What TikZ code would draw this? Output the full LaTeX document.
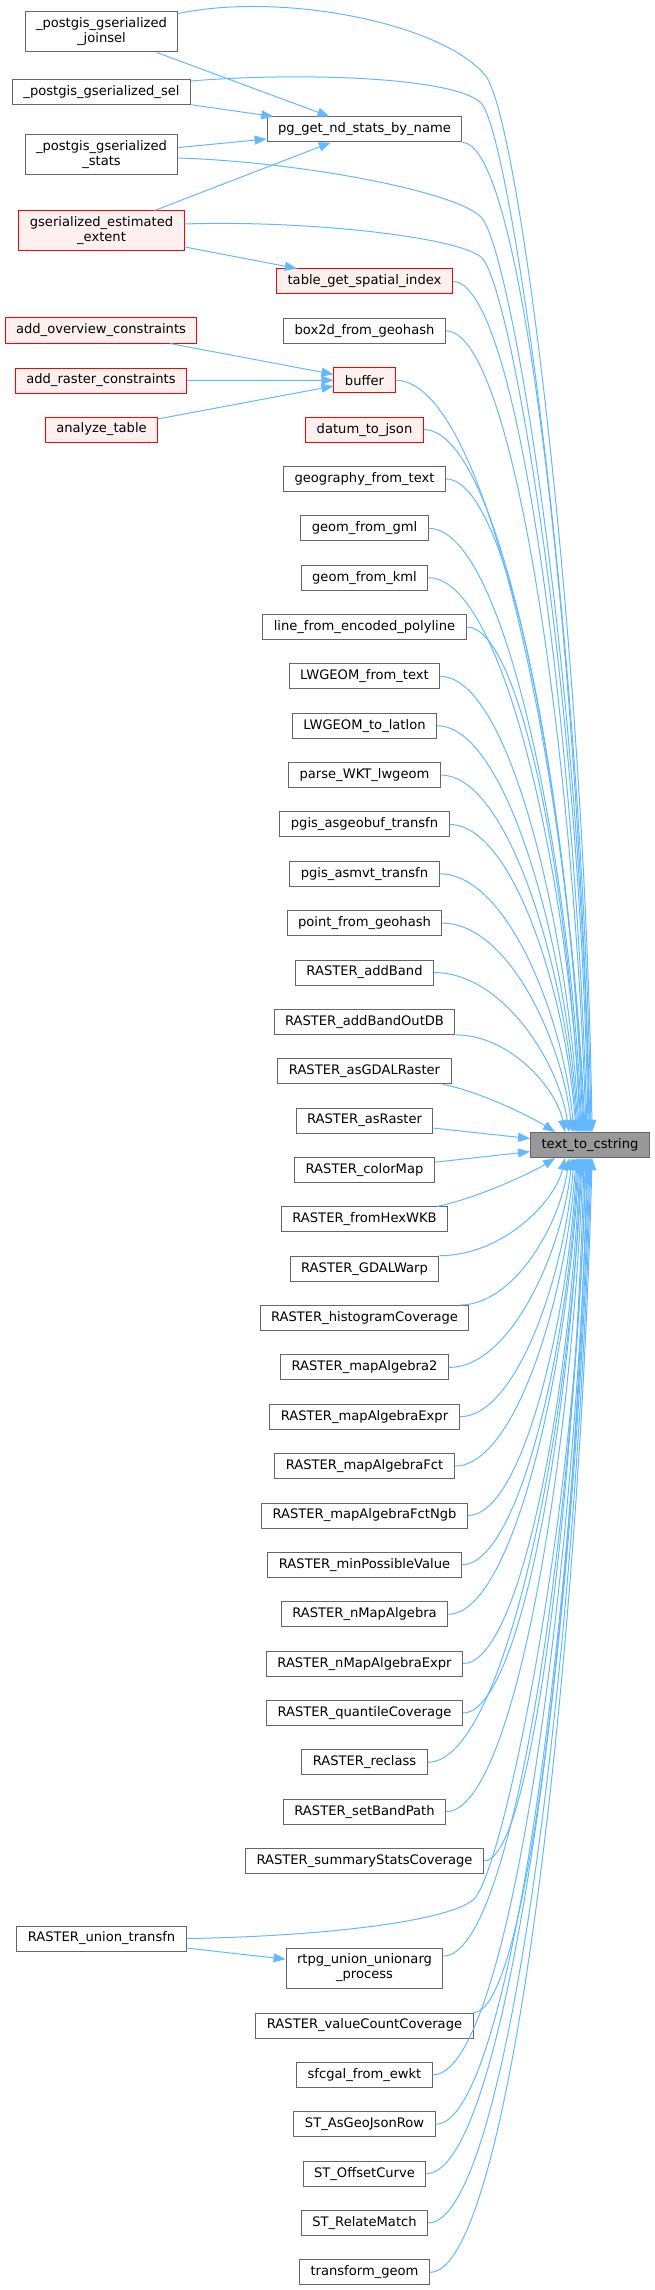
\documentclass[tikz,border=0pt]{standalone}
\usepackage{fontspec}
\setmainfont{DejaVu Sans}
\usetikzlibrary{arrows.meta,calc,positioning}
\definecolor{linkblue}{HTML}{63B8FF}
\definecolor{boxgray}{HTML}{666666}
\definecolor{hotred}{HTML}{FF0000}
\definecolor{hotfill}{HTML}{FFF0F0}
\definecolor{focusgray}{HTML}{999999}

\tikzset{callcurve/.style={to path={let \p1=(\tikztostart), \p2=(\tikztotarget),
      \n1={0.5*(\x2-\x1)}, \n2={0.45*(\y1-\y2)} in
      .. controls (\x1+\n1,\y1) and (\x2-0.16*\n1,\y2+\n2) .. (\p2) \tikztonodes}}}

\begin{document}
\begin{tikzpicture}
            [x=1pt,y=-1pt,>={Triangle[length=12pt,width=9pt]},node distance=49.36pt,
             font=\fontsize{13.1}{15}\selectfont,
             link/.style={draw=linkblue,line width=1pt,->},
             every edge/.style={link},
             fn/.style={draw=boxgray,fill=white,line width=1pt,minimum height=25pt,inner xsep=11pt,inner ysep=2pt},
             fn2/.style={fn,align=center,minimum height=40pt},
             hot/.style={draw=hotred,fill=hotfill},
             focus/.style={fn,fill=focusgray}]

            \useasboundingbox (0,0) rectangle (655,2290);

            \node (tgt) [focus] at (590,1145) {text\_to\_cstring};

            \node (joinsel) [fn2] at (101.5,32) {\_postgis\_gserialized\\\_joinsel};
            \node (sel) [fn] at (101.5,92) {\_postgis\_gserialized\_sel};
            \node (stats) [fn2] at (101.5,155) {\_postgis\_gserialized\\\_stats};
            \node (extent) [fn2,hot] at (101.5,231) {gserialized\_estimated\\\_extent};
            \node (addoverview) [fn,hot] at (101,330.5) {add\_overview\_constraints};
            \node (addraster) [fn,hot] at (101,380.5) {add\_raster\_constraints};
            \node (analyze) [fn,hot] at (101.5,429.5) {analyze\_table};
            \node (uniontrans) [fn] at (101.5,1938.5) {RASTER\_union\_transfn};

            \node (pgnd) [fn] at (364.5,129.5) {pg\_get\_nd\_stats\_by\_name};
            \node (tblidx) [fn,hot] at (364.5,281.5) {table\_get\_spatial\_index};
            \node (box2d) [fn,below of=tblidx] {box2d\_from\_geohash};
            \node (buffer) [fn,hot,below of=box2d] {buffer};
            \node (datum) [fn,hot,below of=buffer] {datum\_to\_json};
            \node (geogtext) [fn,below of=datum] {geography\_from\_text};
            \node (geomgml) [fn,below of=geogtext] {geom\_from\_gml};
            \node (geomkml) [fn,below of=geomgml] {geom\_from\_kml};
            \node (polyline) [fn,below of=geomkml] {line\_from\_encoded\_polyline};
            \node (lwfromtext) [fn,below of=polyline] {LWGEOM\_from\_text};
            \node (lwlatlon) [fn,below of=lwfromtext] {LWGEOM\_to\_latlon};
            \node (parsewkt) [fn,below of=lwlatlon] {parse\_WKT\_lwgeom};
            \node (asgeobuf) [fn,below of=parsewkt] {pgis\_asgeobuf\_transfn};
            \node (asmvt) [fn,below of=asgeobuf] {pgis\_asmvt\_transfn};
            \node (pointgeo) [fn,below of=asmvt] {point\_from\_geohash};
            \node (addband) [fn,below of=pointgeo] {RASTER\_addBand};
            \node (addbandout) [fn,below of=addband] {RASTER\_addBandOutDB};
            \node (asgdal) [fn,below of=addbandout] {RASTER\_asGDALRaster};
            \node (asraster) [fn,below of=asgdal] {RASTER\_asRaster};
            \node (colormap) [fn,below of=asraster] {RASTER\_colorMap};
            \node (fromhex) [fn,below of=colormap] {RASTER\_fromHexWKB};
            \node (gdalwarp) [fn,below of=fromhex] {RASTER\_GDALWarp};
            \node (histcov) [fn,below of=gdalwarp] {RASTER\_histogramCoverage};
            \node (mapalg) [fn,below of=histcov] {RASTER\_mapAlgebra2};
            \node (mapalgexpr) [fn,below of=mapalg] {RASTER\_mapAlgebraExpr};
            \node (mapalgfct) [fn,below of=mapalgexpr] {RASTER\_mapAlgebraFct};
            \node (mapalgngb) [fn,below of=mapalgfct] {RASTER\_mapAlgebraFctNgb};
            \node (minposs) [fn,below of=mapalgngb] {RASTER\_minPossibleValue};
            \node (nmapalg) [fn,below of=minposs] {RASTER\_nMapAlgebra};
            \node (nmapexpr) [fn,below of=nmapalg] {RASTER\_nMapAlgebraExpr};
            \node (quantcov) [fn,below of=nmapexpr] {RASTER\_quantileCoverage};
            \node (reclass) [fn,below of=quantcov] {RASTER\_reclass};
            \node (setband) [fn,below of=reclass] {RASTER\_setBandPath};
            \node (summstats) [fn,below of=setband] {RASTER\_summaryStatsCoverage};
            \node (unionarg) [fn2] at (364.5,1968) {rtpg\_union\_unionarg\\\_process};
            \node (valuecount) [fn] at (364.5,2025.5) {RASTER\_valueCountCoverage};
            \node (sfcgal) [fn,below of=valuecount] {sfcgal\_from\_ewkt};
            \node (asgeojson) [fn,below of=sfcgal] {ST\_AsGeoJsonRow};
            \node (offset) [fn,below of=asgeojson] {ST\_OffsetCurve};
            \node (relate) [fn,below of=offset] {ST\_RelateMatch};
            \node (transgeom) [fn,below of=relate] {transform\_geom};

            \path (joinsel) edge (pgnd);
            \path (sel) edge (pgnd);
            \path (stats) edge (pgnd);
            \path (extent) edge (pgnd);
            \path (extent) edge (tblidx);
            \path (addoverview) edge (buffer);
            \path (addraster) edge (buffer);
            \path (analyze) edge (buffer);
            \path (uniontrans) edge (unionarg);
            \path (asraster) edge (tgt);
            \path (colormap) edge (tgt);

            \draw[link] ([yshift=-2pt]joinsel.north east) .. controls (280,-8) and (440,22) .. (485,75)
                .. controls (520,116) and (585,650) .. ([xshift=62pt]tgt.north west);
            \draw[link] ([yshift=-2pt]sel.north east) .. controls (300,72) and (455,77) .. (481,103)
                .. controls (511,133) and (583,650) .. ([xshift=61pt]tgt.north west);
            \draw[link] ([yshift=-3pt]stats.east) .. controls (300,162) and (455,191) .. (481,217)
                .. controls (511,247) and (582,680) .. ([xshift=59pt]tgt.north west);
            \draw[link] ([yshift=7pt]extent.east) .. controls (300,220) and (455,236) .. (481,257)
                .. controls (511,281) and (581,700) .. ([xshift=58pt]tgt.north west);
            \draw[link] (uniontrans.east) .. controls (300,1937) and (443,1924) .. (473,1900)
                .. controls (503,1876) and (580,1500) .. ([xshift=55pt]tgt.south west);

            \path (pgnd.south east) edge[callcurve] ([xshift=60pt]tgt.north west);
            \path (tblidx.east) edge[callcurve] ([xshift=57pt]tgt.north west);
            \path (box2d.east) edge[callcurve] ([xshift=56pt]tgt.north west);
            \path (buffer.east) edge[callcurve] ([xshift=55pt]tgt.north west);
            \path (datum.east) edge[callcurve] ([xshift=54pt]tgt.north west);
            \path (geogtext.east) edge[callcurve] ([xshift=53pt]tgt.north west);
            \path (geomgml.east) edge[callcurve] ([xshift=52pt]tgt.north west);
            \path (geomkml.east) edge[callcurve] ([xshift=51pt]tgt.north west);
            \path (polyline.east) edge[callcurve] ([xshift=50pt]tgt.north west);
            \path (lwfromtext.east) edge[callcurve] ([xshift=49pt]tgt.north west);
            \path (lwlatlon.east) edge[callcurve] ([xshift=48pt]tgt.north west);
            \path (parsewkt.east) edge[callcurve] ([xshift=47pt]tgt.north west);
            \path (asgeobuf.east) edge[callcurve] ([xshift=46pt]tgt.north west);
            \path (asmvt.east) edge[callcurve] ([xshift=44pt]tgt.north west);
            \path (pointgeo.east) edge[callcurve] ([xshift=42pt]tgt.north west);
            \path (addband.east) edge[callcurve] ([xshift=39pt]tgt.north west);
            \path (addbandout.south east) edge[callcurve] ([xshift=35pt]tgt.north west);
            \draw[link] ([xshift=-9pt]asgdal.south east) .. controls +(40,8) and +(-22,-14) .. ([xshift=25pt]tgt.north west);
            \draw[link] ([xshift=-11pt]fromhex.north east) .. controls +(40,-8) and +(-22,14) .. ([xshift=25pt]tgt.south west);
            \path (gdalwarp.north east) edge[callcurve] ([xshift=35pt]tgt.south west);
            \path ([xshift=-10pt]histcov.north east) edge[callcurve] ([xshift=39pt]tgt.south west);
            \path (mapalg.east) edge[callcurve] ([xshift=42pt]tgt.south west);
            \path (mapalgexpr.east) edge[callcurve] ([xshift=44pt]tgt.south west);
            \path (mapalgfct.east) edge[callcurve] ([xshift=46pt]tgt.south west);
            \path (mapalgngb.east) edge[callcurve] ([xshift=47pt]tgt.south west);
            \path (minposs.east) edge[callcurve] ([xshift=48pt]tgt.south west);
            \path (nmapalg.east) edge[callcurve] ([xshift=49pt]tgt.south west);
            \path (nmapexpr.east) edge[callcurve] ([xshift=50pt]tgt.south west);
            \path (quantcov.east) edge[callcurve] ([xshift=51pt]tgt.south west);
            \path (reclass.east) edge[callcurve] ([xshift=52pt]tgt.south west);
            \path (setband.east) edge[callcurve] ([xshift=53pt]tgt.south west);
            \path (summstats.east) edge[callcurve] ([xshift=54pt]tgt.south west);
            \path ([yshift=12pt]unionarg.east) edge[callcurve] ([xshift=56pt]tgt.south west);
            \path (valuecount.north east) edge[callcurve] ([xshift=57pt]tgt.south west);
            \path (sfcgal.east) edge[callcurve] ([xshift=58pt]tgt.south west);
            \path (asgeojson.east) edge[callcurve] ([xshift=59pt]tgt.south west);
            \path (offset.east) edge[callcurve] ([xshift=60pt]tgt.south west);
            \path (relate.east) edge[callcurve] ([xshift=61pt]tgt.south west);
            \path (transgeom.east) edge[callcurve] ([xshift=62pt]tgt.south west);
        \end{tikzpicture}
\end{document}
